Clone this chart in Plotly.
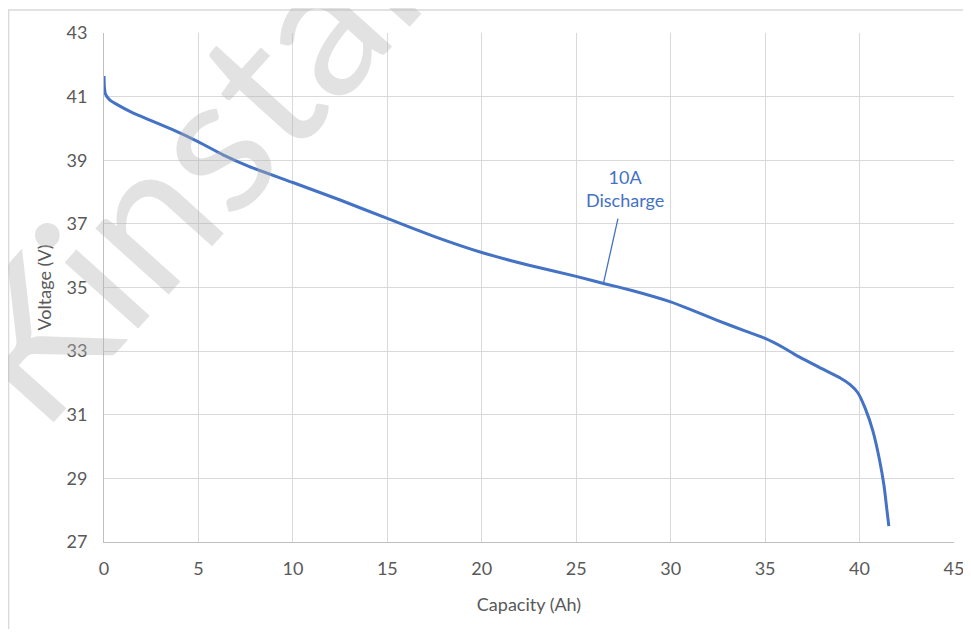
import plotly.graph_objects as go

capacity_ah = [0.0, 0.02, 0.08, 0.3, 0.7, 1.5, 2.4, 3.6, 5.0, 6.3, 7.7, 10.0, 12.5,
               15.0, 17.5, 20.0, 22.5, 25.0, 26.5, 28.0, 30.0, 31.0, 32.5, 34.0, 35.0,
               36.0, 36.7, 38.0, 39.0, 39.5, 39.9, 40.3, 40.7, 41.05, 41.3, 41.45, 41.55]
voltage_v = [41.65, 41.3, 41.08, 40.9, 40.75, 40.5, 40.27, 39.97, 39.58, 39.17, 38.8,
             38.3, 37.75, 37.17, 36.6, 36.1, 35.7, 35.35, 35.12, 34.9, 34.55, 34.32,
             33.96, 33.62, 33.4, 33.1, 32.85, 32.45, 32.15, 31.95, 31.7, 31.2, 30.5,
             29.6, 28.75, 28.0, 27.5]

x_ticks = [0, 5, 10, 15, 20, 25, 30, 35, 40, 45]
y_ticks = [27, 29, 31, 33, 35, 37, 39, 41, 43]

series_label = "10A<br>Discharge"
label_point = (26.45, 35.15)

BLUE = "#4472C4"
GRID = "#d9d9d9"
TXT = "#595959"
FONT = "Lato"

fig = go.Figure()
fig.add_trace(go.Scatter(
    x=capacity_ah, y=voltage_v, mode="lines",
    line=dict(color=BLUE, width=3, shape="spline", smoothing=0.4),
    showlegend=False, hoverinfo="skip",
))

fig.update_layout(
    width=963, height=621,
    margin=dict(l=96, r=17, t=25, b=87),
    paper_bgcolor="white", plot_bgcolor="white",
    font=dict(family=FONT, size=18, color=TXT),
    xaxis=dict(
        range=[0, 45], tickvals=x_ticks, showgrid=True, gridcolor=GRID, gridwidth=1,
        zeroline=False, showline=True, linecolor="#bfbfbf", linewidth=1,
        ticks="", ticklabelstandoff=10, automargin=False,
        title=dict(text="Capacity (Ah)", standoff=20, font=dict(size=18, color=TXT)),
        tickfont=dict(size=18, color=TXT),
    ),
    yaxis=dict(
        range=[27, 43], tickvals=y_ticks, showgrid=True, gridcolor=GRID, gridwidth=1,
        zeroline=False, showline=True, linecolor="#bfbfbf", linewidth=1,
        ticks="", ticklabelstandoff=12, automargin=False,
        title=dict(text="Voltage (V)", standoff=10, font=dict(size=18, color=TXT)),
        tickfont=dict(size=18, color=TXT),
    ),
)

# outer chart border
fig.add_shape(type="rect", xref="paper", yref="paper",
              x0=-0.1123, y0=-0.21, x1=1.04, y1=1.0452,
              line=dict(color=GRID, width=1.5), fillcolor="rgba(0,0,0,0)", layer="below")

# data label with leader line
fig.add_annotation(
    x=label_point[0], y=label_point[1], xref="x", yref="y",
    text=series_label, showarrow=True, arrowhead=0, arrowwidth=1.3, arrowcolor=BLUE,
    ax=21, ay=-94, startstandoff=6,
    font=dict(family=FONT, size=18, color=BLUE), align="center",
)

# watermark
fig.add_annotation(
    x=0.10, y=0.75, xref="paper", yref="paper", text="Kinstar",
    showarrow=False, textangle=-48, xanchor="center", yanchor="middle",
    font=dict(family=FONT, size=195, color="rgba(180,180,180,0.38)"),
)

fig.write_html("out.html")
